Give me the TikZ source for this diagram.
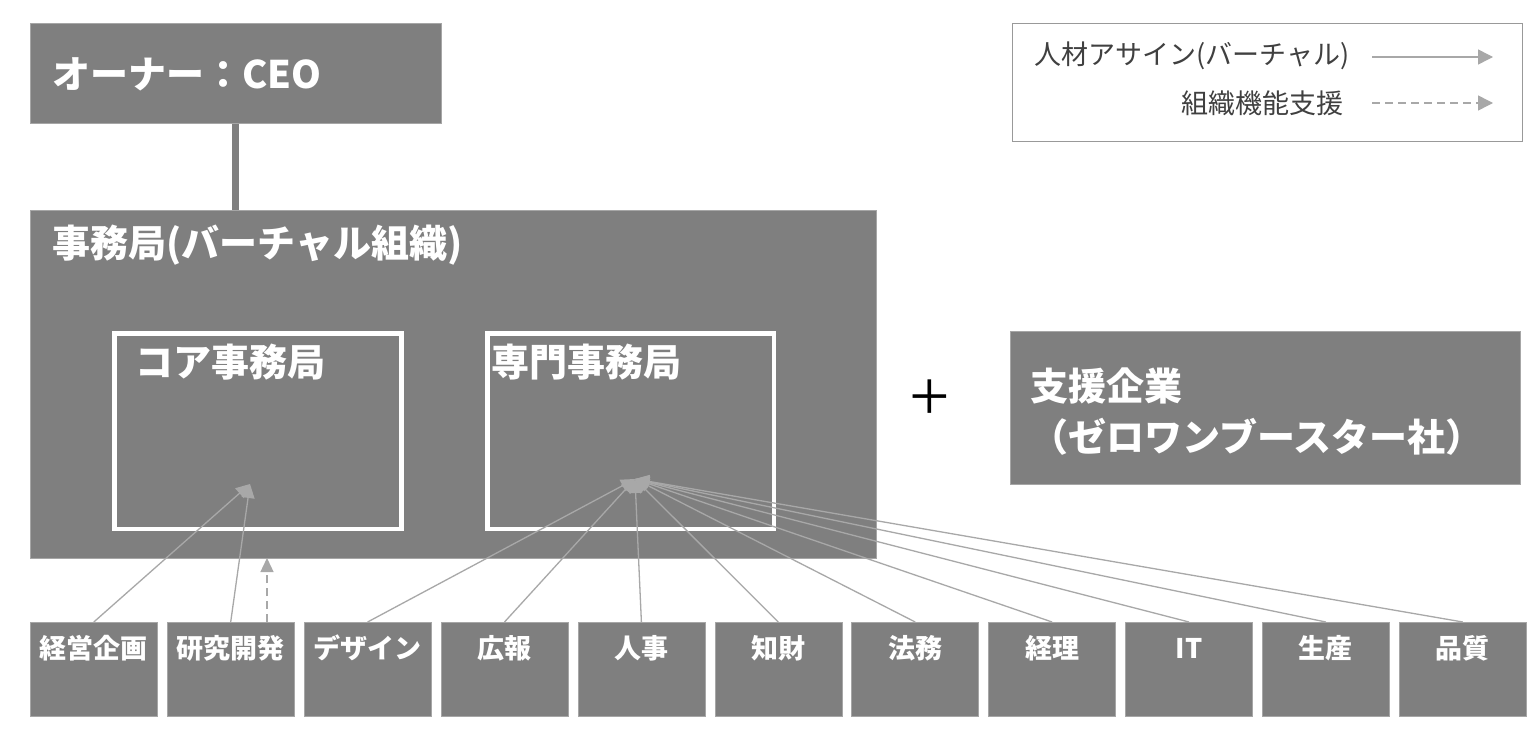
\documentclass[tikz,border=0pt]{standalone}
\usepackage{fontspec}
\setmainfont{Noto Sans CJK JP}
\newfontfamily\plusfont{Liberation Serif}
\usetikzlibrary{arrows.meta, positioning}
\definecolor{boxgray}{HTML}{7F7F7F}
\definecolor{linegray}{HTML}{A8A8A8}
\definecolor{legendtext}{HTML}{404040}

\begin{document}
\begin{tikzpicture}[
  x=1pt, y=-1pt,
  block/.style={rectangle, fill=boxgray, draw=black!35, line width=0.6pt, anchor=north west, inner sep=0pt},
  unitbox/.style={rectangle, fill=boxgray, draw=white, line width=4.5pt, anchor=north west, inner sep=0pt,
                  minimum width=287pt, minimum height=195.5pt},
  title/.style={anchor=west, text=white, inner sep=0pt, font=\fontsize{38}{40}\selectfont\bfseries},
  dept/.style={block, minimum width=127pt, minimum height=94pt},
  deptlabel/.style={text=white, inner sep=0pt, font=\fontsize{27}{28}\selectfont\bfseries},
  assign/.style={-{Triangle[length=14pt, width=13pt]}, line width=1.3pt, linegray},
  support/.style={assign, dash pattern=on 8pt off 5pt},
  legendtxt/.style={anchor=east, text=legendtext, inner sep=0pt, font=\fontsize{27}{28}\selectfont},
  legendarrow/.style={-{Triangle[length=15pt, width=15pt]}, line width=1.5pt, linegray},
]
  % --- canvas ---
  \fill[white] (0,0) rectangle (1535,736);

  % --- owner and office ---
  \node[block, minimum width=411pt, minimum height=100pt] (owner) at (30,23) {};
  \node[title] (ownerT) at (52,74) {オーナー：CEO};
  \node[block, minimum width=846pt, minimum height=348pt] (office) at (30,210) {};
  \node[title] (officeT) at (52,245) {事務局(バーチャル組織)};
  \draw[boxgray, line width=7pt] (owner.south) -- (owner.south |- office.north);

  % --- core / special units ---
  \node[unitbox] (core) at (112,331) {};
  \node[title] (coreT) at (135,362) {コア事務局};
  \node[unitbox, minimum width=286.5pt] (senmon) at (485,331) {};
  \node[title] (senmonT) at (491,362) {専門事務局};

  % --- support company ---
  \node[font=\plusfont\fontsize{72}{72}\selectfont, inner sep=0pt] (plus) at (930,400) {+};
  \node[block, minimum width=510pt, minimum height=153pt] (partner) at (1010,331) {};
  \node[title, align=left, font=\fontsize{38}{51}\selectfont\bfseries] (partnerT) at (1030,412)
    {支援企業\\（ゼロワンブースター社）};

  % --- departments ---
  \foreach \name [count=\i from 0] in {経営企画,研究開発,デザイン,広報,人事,知財,法務,経理,IT,生産,品質} {
    \node[dept] (d\i) at ({30+136.9*\i},622) {};
    \node[deptlabel] (l\i) at ([yshift=-26pt]d\i.north) {\name};
  }

  % --- assignment arrows ---
  \coordinate (coreTip) at (250,484);
  \coordinate (senmonTip) at (635,479);
  \coordinate (rdTip) at (267,558);
  \foreach \i in {0,1}
    \draw[assign] (d\i.north) -- (coreTip);
  \foreach \i in {2,...,10}
    \draw[assign] (d\i.north) -- (senmonTip);
  \draw[support] (d1.north -| rdTip) -- (rdTip);

  % --- legend ---
  \node[block, fill=white, draw=black!40, line width=1.2pt, minimum width=510pt, minimum height=118pt] (legend) at (1012,23) {};
  \node[legendtxt] (legA) at (1350,56) {人材アサイン(バーチャル)};
  \node[legendtxt] (legB) at (1344,103) {組織機能支援};
  \coordinate (legA1) at (1372,57);
  \coordinate (legA2) at (1493,57);
  \coordinate (legB1) at (1372,103);
  \coordinate (legB2) at (1493,103);
  \draw[legendarrow] (legA1) -- (legA2);
  \draw[legendarrow, dash pattern=on 8pt off 5pt] (legB1) -- (legB2);
\end{tikzpicture}
\end{document}
